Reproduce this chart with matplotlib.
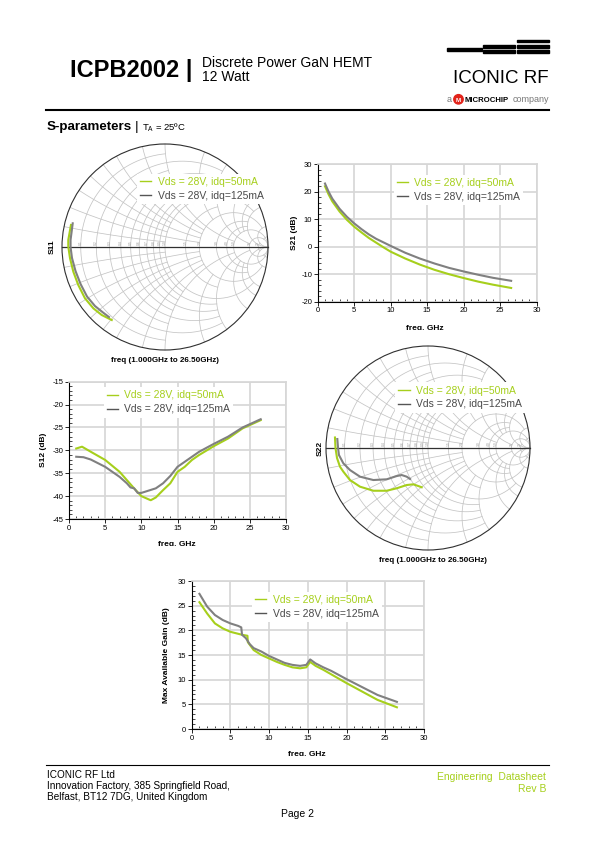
import numpy as np
import matplotlib
matplotlib.use("Agg")
import matplotlib.pyplot as plt
from matplotlib.lines import Line2D
from matplotlib.patches import Rectangle, Circle, Ellipse
from matplotlib.ticker import MultipleLocator
from matplotlib.transforms import Bbox, TransformedBbox

plt.rcParams['font.family'] = ['Liberation Sans', 'DejaVu Sans']
plt.rcParams['axes.unicode_minus'] = False

W, H = 595, 842
GREEN = '#a6cf1c'
GRAY = '#808080'
GRID = '#d6d6d6'
LABELS = ['Vds = 28V, idq=50mA', 'Vds = 28V, idq=125mA']

# S11 (reflection coefficient, real / imag), 1 - 26.5 GHz
s11_50_re = [-0.913, -0.939, -0.939, -0.922, -0.890, -0.842, -0.777, -0.696, -0.615, -0.517]
s11_50_im = [0.214, 0.068, 0.003, -0.110, -0.240, -0.369, -0.498, -0.595, -0.660, -0.709]
s11_125_re = [-0.896, -0.917, -0.917, -0.903, -0.869, -0.820, -0.757, -0.680, -0.602, -0.544]
s11_125_im = [0.230, 0.068, 0.0, -0.107, -0.233, -0.359, -0.481, -0.573, -0.636, -0.680]

# S22
s22_50_re = [-0.912, -0.907, -0.892, -0.863, -0.830, -0.765, -0.667, -0.536, -0.405, -0.307,
             -0.209, -0.144, -0.095, -0.062]
s22_50_im = [0.103, 0.0, -0.098, -0.183, -0.232, -0.314, -0.379, -0.419, -0.419, -0.395,
             -0.363, -0.356, -0.373, -0.385]
s22_125_re = [-0.889, -0.882, -0.873, -0.830, -0.765, -0.667, -0.536, -0.405, -0.307, -0.258,
              -0.209, -0.176]
s22_125_im = [0.088, 0.0, -0.069, -0.150, -0.216, -0.281, -0.314, -0.307, -0.275, -0.265,
              -0.281, -0.304]

# S21 (dB)
f_s21 = [1, 1.5, 2, 3, 4, 5, 6, 7, 8, 9, 10, 12, 14, 16, 18, 20, 22, 24, 26.5]
s21_50 = [22, 19, 16.5, 12.8, 9.8, 7.3, 5.2, 3.2, 1.5, -0.2, -1.8, -4.3, -6.5, -8.4, -10.0,
          -11.4, -12.7, -13.8, -15.0]
s21_125 = [23, 20, 17.5, 13.8, 10.9, 8.5, 6.4, 4.5, 2.9, 1.6, 0.3, -2.2, -4.3, -6.1, -7.7,
           -9.0, -10.2, -11.3, -12.4]

# S12 (dB)
f_s12_50 = [1, 1.8, 3, 5, 7, 8, 9, 10, 11, 11.3, 12, 13, 14, 15, 16, 17, 18, 20, 22, 24, 26.5]
s12_50 = [-29.6, -29.2, -30.3, -32.1, -34.7, -36.5, -38.3, -40.0, -40.7, -40.9, -40.3, -38.7,
          -37.2, -34.7, -33.6, -32.1, -31.0, -29.1, -27.4, -25.2, -23.4]
f_s12_125 = [1, 2, 3, 5, 7, 8, 8.5, 9, 9.5, 10, 11, 12, 13, 14, 15, 16, 17, 18, 20, 22, 24, 26.5]
s12_125 = [-31.4, -31.5, -32.0, -33.6, -35.8, -37.2, -38.1, -38.3, -39.3, -39.3, -38.8, -38.3,
           -37.2, -35.6, -33.6, -32.5, -31.4, -30.3, -28.6, -27.0, -25.0, -23.2]

# Max available gain (dB)
f_mag_50 = [1, 2, 3, 4, 5, 6, 6.5, 7.2, 7.25, 8, 9, 10, 11, 12, 13, 14, 14.8, 15.3, 16, 17, 18,
            20, 22, 24, 26.5]
mag_50 = [25.7, 23.4, 21.4, 20.4, 19.7, 19.3, 19.1, 18.9, 17.6, 16.0, 15.0, 14.3, 13.6, 13.0,
          12.5, 12.3, 12.5, 13.6, 12.8, 12.0, 11.1, 9.3, 7.6, 5.9, 4.4]
f_mag_125 = [1, 2, 3, 4, 5, 6, 6.4, 6.5, 7, 7.5, 8, 9, 10, 11, 12, 13, 14, 14.8, 15.3, 16, 17, 18,
             20, 22, 24, 26.5]
mag_125 = [27.4, 24.8, 23.1, 22.1, 21.4, 20.9, 20.6, 19.1, 18.4, 17.2, 16.4, 15.7, 14.8, 14.1,
           13.4, 13.0, 12.8, 13.0, 14.1, 13.3, 12.5, 11.8, 10.1, 8.5, 6.9, 5.5]

# smith grid: (value, extent of the other coordinate)
smith_r = [(0.1, 1), (0.2, 2), (0.3, 1), (0.4, 2), (0.5, 1), (0.6, 2), (0.7, 1), (0.8, 2),
           (0.9, 1), (1.0, 5), (1.5, 2), (2.0, 10), (3.0, 5), (4.0, 5), (5.0, 1e4), (10, 1e4),
           (20, 10)]
smith_x = [(0.1, 1), (0.2, 2), (0.3, 1), (0.4, 2), (0.5, 1), (0.6, 2), (0.8, 2), (1.0, 5),
           (1.5, 2), (2.0, 10), (3.0, 5), (4.0, 5), (5.0, 1e4), (10, 1e4), (20, 10)]
r_tick_labels = [0.1, 0.2, 0.3, 0.4, 0.5, 0.6, 0.7, 0.8, 0.9, 1.0, 1.5, 2.0, 3.0, 4.0, 5.0, 10, 20]

fig = plt.figure(figsize=(W / 100, H / 100), dpi=100)


def fx(x):
    return x / W


def fy(y):
    return 1 - y / H


def px_axes(left, top, right, bottom):
    return fig.add_axes([fx(left), fy(bottom), (right - left) / W, (bottom - top) / H])


def ftext(x, y, s, **kw):
    kw.setdefault('va', 'baseline')
    return fig.text(fx(x), fy(y), s, **kw)


def add_legend(ax, x0, y0):
    handles = [Line2D([], [], color=GREEN, lw=1.0), Line2D([], [], color='#555555', lw=1.0)]
    fs = 7.5 * 100 / 72
    leg = ax.legend(handles, LABELS, loc='upper left',
                    bbox_to_anchor=(fx(x0 - 0.3 * fs), fy(y0 - 0.3 * fs - 6.2)),
                    bbox_transform=fig.transFigure, fontsize=7.5, handlelength=1.1,
                    handletextpad=0.6, labelspacing=0.38, borderpad=0.3, borderaxespad=0,
                    frameon=True, fancybox=False, framealpha=1, facecolor='white',
                    edgecolor='none')
    leg.set_zorder(10)
    for t, c in zip(leg.get_texts(), [GREEN, '#4a4a4a']):
        t.set_color(c)
    return leg


def clipped_label(x, y_top, s, clip_y):
    t = fig.text(fx(x), fy(y_top), s, ha='center', va='top', fontsize=6, fontweight='bold')
    t.set_clip_box(TransformedBbox(Bbox.from_extents(0, fy(clip_y), 1, 1), fig.transFigure))
    t.set_clip_on(True)


def smith_axes(cx, cy, R):
    k = 1.1
    ax = px_axes(cx - k * R, cy - k * R, cx + k * R, cy + k * R)
    ax.set_xlim(-k, k)
    ax.set_ylim(-k, k)
    ax.axis('off')
    t = np.linspace(-np.pi / 2 + 1e-4, np.pi / 2 - 1e-4, 400)
    for r, xmax in smith_r:
        xs = np.tan(t * np.arctan(xmax) / (np.pi / 2))
        g = (r + 1j * xs - 1) / (r + 1j * xs + 1)
        ax.plot(g.real, g.imag, color='#c4c4c4', lw=0.55, zorder=1)
    u = np.linspace(0, np.pi / 2 - 1e-4, 300)
    for xv, rmax in smith_x:
        rs = np.tan(u * np.arctan(rmax) / (np.pi / 2))
        for sgn in (1, -1):
            g = (rs + 1j * sgn * xv - 1) / (rs + 1j * sgn * xv + 1)
            ax.plot(g.real, g.imag, color='#c4c4c4', lw=0.55, zorder=1)
    for r in r_tick_labels:
        gx = (r - 1) / (r + 1)
        ax.text(gx, 0.015, f'{r:.1f}' if r < 10 else f'{r:.0f}', rotation=90, fontsize=2.4,
                color='#9a9a9a', ha='center', va='bottom', zorder=2)
    ax.add_patch(Circle((0, 0), 1, fill=False, ec='#303030', lw=0.8, zorder=3))
    ax.plot([-1, 1], [0, 0], color='#303030', lw=0.9, zorder=3)
    return ax


def rect_axes(box, ylim, ymajor, yminor):
    ax = px_axes(*box)
    ax.set_xlim(0, 30)
    ax.set_ylim(*ylim)
    ax.xaxis.set_major_locator(MultipleLocator(5))
    ax.xaxis.set_minor_locator(MultipleLocator(1))
    ax.yaxis.set_major_locator(MultipleLocator(ymajor))
    ax.yaxis.set_minor_locator(MultipleLocator(yminor))
    ax.grid(True, which='major', color=GRID, lw=1.2)
    ax.set_axisbelow(True)
    for s in ['top', 'right']:
        ax.spines[s].set_color(GRID)
        ax.spines[s].set_linewidth(1.2)
    for s in ['left', 'bottom']:
        ax.spines[s].set_color('black')
        ax.spines[s].set_linewidth(0.8)
    ax.tick_params(which='major', direction='out', length=3, width=0.6, labelsize=5.5, pad=1)
    ax.tick_params(which='minor', direction='in', length=2.5, width=0.5)
    return ax


# ---------------- header ----------------
ftext(70, 77, 'ICPB2002 |', fontsize=17, fontweight='bold')
ftext(201.7, 67, 'Discrete Power GaN HEMT', fontsize=10)
ftext(201.7, 81, '12 Watt', fontsize=10)
bars = [(446.7, 48.5, 35, 2.8), (483.3, 45.0, 31.7, 2.8), (483.3, 50.5, 31.7, 2.8),
        (516.7, 39.5, 32.3, 2.8), (516.7, 45.0, 32.3, 2.8), (516.7, 50.5, 32.3, 2.8)]
for x, y, w, h in bars:
    fig.patches.append(Rectangle((fx(x), fy(y + h)), w / W, h / H, transform=fig.transFigure,
                                 color='black'))
ftext(549, 83, 'ICONIC RF', fontsize=13.5, ha='right')
ftext(446.5, 102.5, 'a', fontsize=6.5, color='#777777')
fig.patches.append(Ellipse((fx(458.5), fy(99.3)), 9.4 / W, 9.4 / H, transform=fig.transFigure,
                           color='#e2231a'))
ftext(458.5, 101.6, 'M', fontsize=4.6, color='white', ha='center', fontweight='bold')
ftext(464.5, 102.5, 'MICROCHIP', fontsize=5.6, fontweight='bold')
ftext(549, 102.5, 'company', fontsize=6.5, color='#777777', ha='right')
fig.add_artist(Line2D([fx(46), fx(549)], [fy(110), fy(110)], color='black', lw=1.5))
ftext(46.5, 130, 'S-parameters', fontsize=9.6, fontweight='bold')
ftext(134.5, 130, '|', fontsize=9.6)
ftext(141.5, 130, r'T$_\mathregular{A}$ = 25ºC', fontsize=6.8)

# ---------------- S11 ----------------
ax11 = smith_axes(165, 247, 103)
ax11.plot(s11_50_re, s11_50_im, color=GREEN, lw=1.5, zorder=4)
ax11.plot(s11_125_re, s11_125_im, color=GRAY, lw=1.5, zorder=5)
add_legend(ax11, 140, 183)
ftext(52, 247, 'S11', fontsize=6, fontweight='bold', rotation=90, ha='center', va='center')
ftext(165, 360, 'freq (1.000GHz to 26.50GHz)', fontsize=5.8, fontweight='bold', ha='center',
      va='center')

# ---------------- S21 ----------------
ax21 = rect_axes((317.7, 164.3, 536.7, 301.7), (-20, 30), 10, 2)
ax21.plot(f_s21, s21_50, color=GREEN, lw=1.5)
ax21.plot(f_s21, s21_125, color=GRAY, lw=1.5)
add_legend(ax21, 396.7, 184.3)
ftext(294, 233, 'S21 (dB)', fontsize=6, fontweight='bold', rotation=90, ha='center',
      va='center')
clipped_label(425, 325, 'freq, GHz', 329.5)

# ---------------- S12 ----------------
ax12 = rect_axes((69, 381.7, 286, 519), (-45, -15), 5, 1)
ax12.plot(f_s12_50, s12_50, color=GREEN, lw=1.5)
ax12.plot(f_s12_125, s12_125, color=GRAY, lw=1.5)
add_legend(ax12, 106.7, 396.7)
ftext(43, 450, 'S12 (dB)', fontsize=6, fontweight='bold', rotation=90, ha='center',
      va='center')
clipped_label(177, 540.5, 'freq, GHz', 545.5)

# ---------------- S22 ----------------
ax22 = smith_axes(428, 448, 102)
ax22.plot(s22_50_re, s22_50_im, color=GREEN, lw=1.5, zorder=4)
ax22.plot(s22_125_re, s22_125_im, color=GRAY, lw=1.5, zorder=5)
add_legend(ax22, 398.3, 391.7)
ftext(320, 448, 'S22', fontsize=6, fontweight='bold', rotation=90, ha='center', va='center')
ftext(433, 560, 'freq (1.000GHz to 26.50GHz)', fontsize=5.8, fontweight='bold', ha='center',
      va='center')

# ---------------- MAG ----------------
axg = rect_axes((191.7, 581, 424, 729), (0, 30), 5, 1)
axg.plot(f_mag_50, mag_50, color=GREEN, lw=1.5)
axg.plot(f_mag_125, mag_125, color=GRAY, lw=1.5)
add_legend(axg, 255, 601)
ftext(166, 655, 'Max Available Gain (dB)', fontsize=6, fontweight='bold', rotation=90,
      ha='center', va='center')
clipped_label(307, 751.5, 'freq, GHz', 755.5)

# ---------------- footer ----------------
fig.add_artist(Line2D([fx(46), fx(549)], [fy(765), fy(765)], color='black', lw=0.8))
ftext(47.3, 777.7, 'ICONIC RF Ltd', fontsize=7.2)
ftext(47.3, 789, 'Innovation Factory, 385 Springfield Road,', fontsize=7.2)
ftext(47.3, 800, 'Belfast, BT12 7DG, United Kingdom', fontsize=7.2)
ftext(546, 780, 'Engineering  Datasheet', fontsize=7.5, color=GREEN, ha='right')
ftext(546, 792.3, 'Rev B', fontsize=7.5, color=GREEN, ha='right')
ftext(297.3, 816.7, 'Page 2', fontsize=7.5, ha='center')

fig.savefig('out.png', dpi=100)
